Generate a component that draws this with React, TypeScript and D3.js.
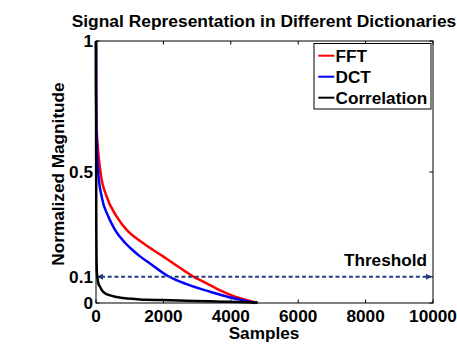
import React from "react";
import * as d3 from "d3";

const fftX = [0, 3, 15, 40, 139, 317, 614, 911, 1404, 2000, 2300, 2900, 3284, 3700, 4125, 4570, 4780];
const fftY = [1, 0.82, 0.68, 0.62, 0.495, 0.406, 0.33, 0.279, 0.228, 0.177, 0.151, 0.1, 0.075, 0.047, 0.024, 0.008, 0];

const dctX = [0, 3, 20, 69, 168, 366, 564, 861, 1058, 1306, 1602, 2146, 2690, 3383, 3878, 4372, 4718];
const dctY = [1, 0.8, 0.62, 0.495, 0.406, 0.33, 0.279, 0.23, 0.205, 0.178, 0.151, 0.102, 0.072, 0.043, 0.025, 0.01, 0];

const corrX = [0, 3, 8, 15, 25, 40, 70, 119, 180, 267, 400, 564, 800, 1157, 1500, 1950, 2938, 3800, 4800];
const corrY = [1, 0.6, 0.3, 0.18, 0.12, 0.1, 0.075, 0.062, 0.048, 0.037, 0.03, 0.024, 0.019, 0.015, 0.012, 0.011, 0.008, 0.005, 0.002];

const seriesNames = ["FFT", "DCT", "Correlation"];
const seriesColors = ["#ff0000", "#0000ff", "#000000"];

const xTicks = [0, 2000, 4000, 6000, 8000, 10000];
const yTicks = [0, 0.1, 0.5, 1];
const thresholdValue = 0.1;

const W = 457;
const H = 353;
const left = 96;
const right = 433;
const top = 41;
const bottom = 303;

export default function App() {
  const x = d3.scaleLinear().domain([0, 10000]).range([left, right]);
  const y = d3.scaleLinear().domain([0, 1]).range([bottom, top]);
  const line = d3
    .line<[number, number]>()
    .x((d) => x(d[0]))
    .y((d) => y(d[1]))
    .curve(d3.curveMonotoneX);

  const series = [
    fftX.map((v, i) => [v, fftY[i]] as [number, number]),
    dctX.map((v, i) => [v, dctY[i]] as [number, number]),
    corrX.map((v, i) => [v, corrY[i]] as [number, number]),
  ];

  const font = "'Liberation Sans', Arial, Helvetica, sans-serif";
  const navy = "#233d80";
  const ty = y(thresholdValue);
  const tk = 3.5;
  const fs = 17.2;

  return (
    <svg
      width={W}
      height={H}
      style={{ position: "absolute", left: 0, top: 0, display: "block" }}
      fontFamily={font}
      fontWeight="bold"
    >
      <rect x={0} y={0} width={W} height={H} fill="#fff" />
      <text x={264} y={26.5} fontSize={17.4} textAnchor="middle">
        Signal Representation in Different Dictionaries
      </text>

      {series.map((s, i) => (
        <path key={i} d={line(s) || ""} fill="none" stroke={seriesColors[i]} strokeWidth={2.5} strokeLinejoin="round" />
      ))}

      {/* threshold */}
      <line x1={x(0) + 5} x2={x(10000) - 5} y1={ty} y2={ty} stroke={navy} strokeWidth={2} strokeDasharray="4,2.7" />
      <path d={`M${x(0) + 1},${ty} L${x(0) + 7},${ty - 3} L${x(0) + 7},${ty + 3} Z`} fill={navy} />
      <path d={`M${x(10000) - 1},${ty} L${x(10000) - 7},${ty - 3} L${x(10000) - 7},${ty + 3} Z`} fill={navy} />
      <text x={427} y={265.5} fontSize={fs} textAnchor="end">
        Threshold
      </text>

      {/* axes box */}
      <rect x={left} y={top} width={right - left} height={bottom - top} fill="none" stroke="#000" strokeWidth={1} />
      {xTicks.map((t) => (
        <g key={"x" + t}>
          <line x1={x(t)} x2={x(t)} y1={bottom} y2={bottom - tk} stroke="#000" />
          <line x1={x(t)} x2={x(t)} y1={top} y2={top + tk} stroke="#000" />
          <text x={x(t)} y={321.5} fontSize={fs} textAnchor="middle">
            {t}
          </text>
        </g>
      ))}
      {yTicks.map((t) => (
        <g key={"y" + t}>
          <line x1={left} x2={left + tk} y1={y(t)} y2={y(t)} stroke="#000" />
          <line x1={right} x2={right - tk} y1={y(t)} y2={y(t)} stroke="#000" />
          <text x={93} y={y(t) + 6} fontSize={fs} textAnchor="end">
            {t}
          </text>
        </g>
      ))}

      <text x={264} y={339} fontSize={fs} textAnchor="middle">
        Samples
      </text>
      <text transform={`translate(64,174) rotate(-90)`} fontSize={fs} textAnchor="middle">
        Normalized Magnitude
      </text>

      {/* legend */}
      <rect x={314} y={43.5} width={117} height={65.5} fill="#fff" stroke="#000" strokeWidth={1} />
      {seriesNames.map((n, i) => {
        const ly = 55.7 + i * 21;
        return (
          <g key={n}>
            <line x1={318.3} x2={334.3} y1={ly} y2={ly} stroke={seriesColors[i]} strokeWidth={2} />
            <text x={335.5} y={ly + 6} fontSize={fs}>
              {n}
            </text>
          </g>
        );
      })}
    </svg>
  );
}
